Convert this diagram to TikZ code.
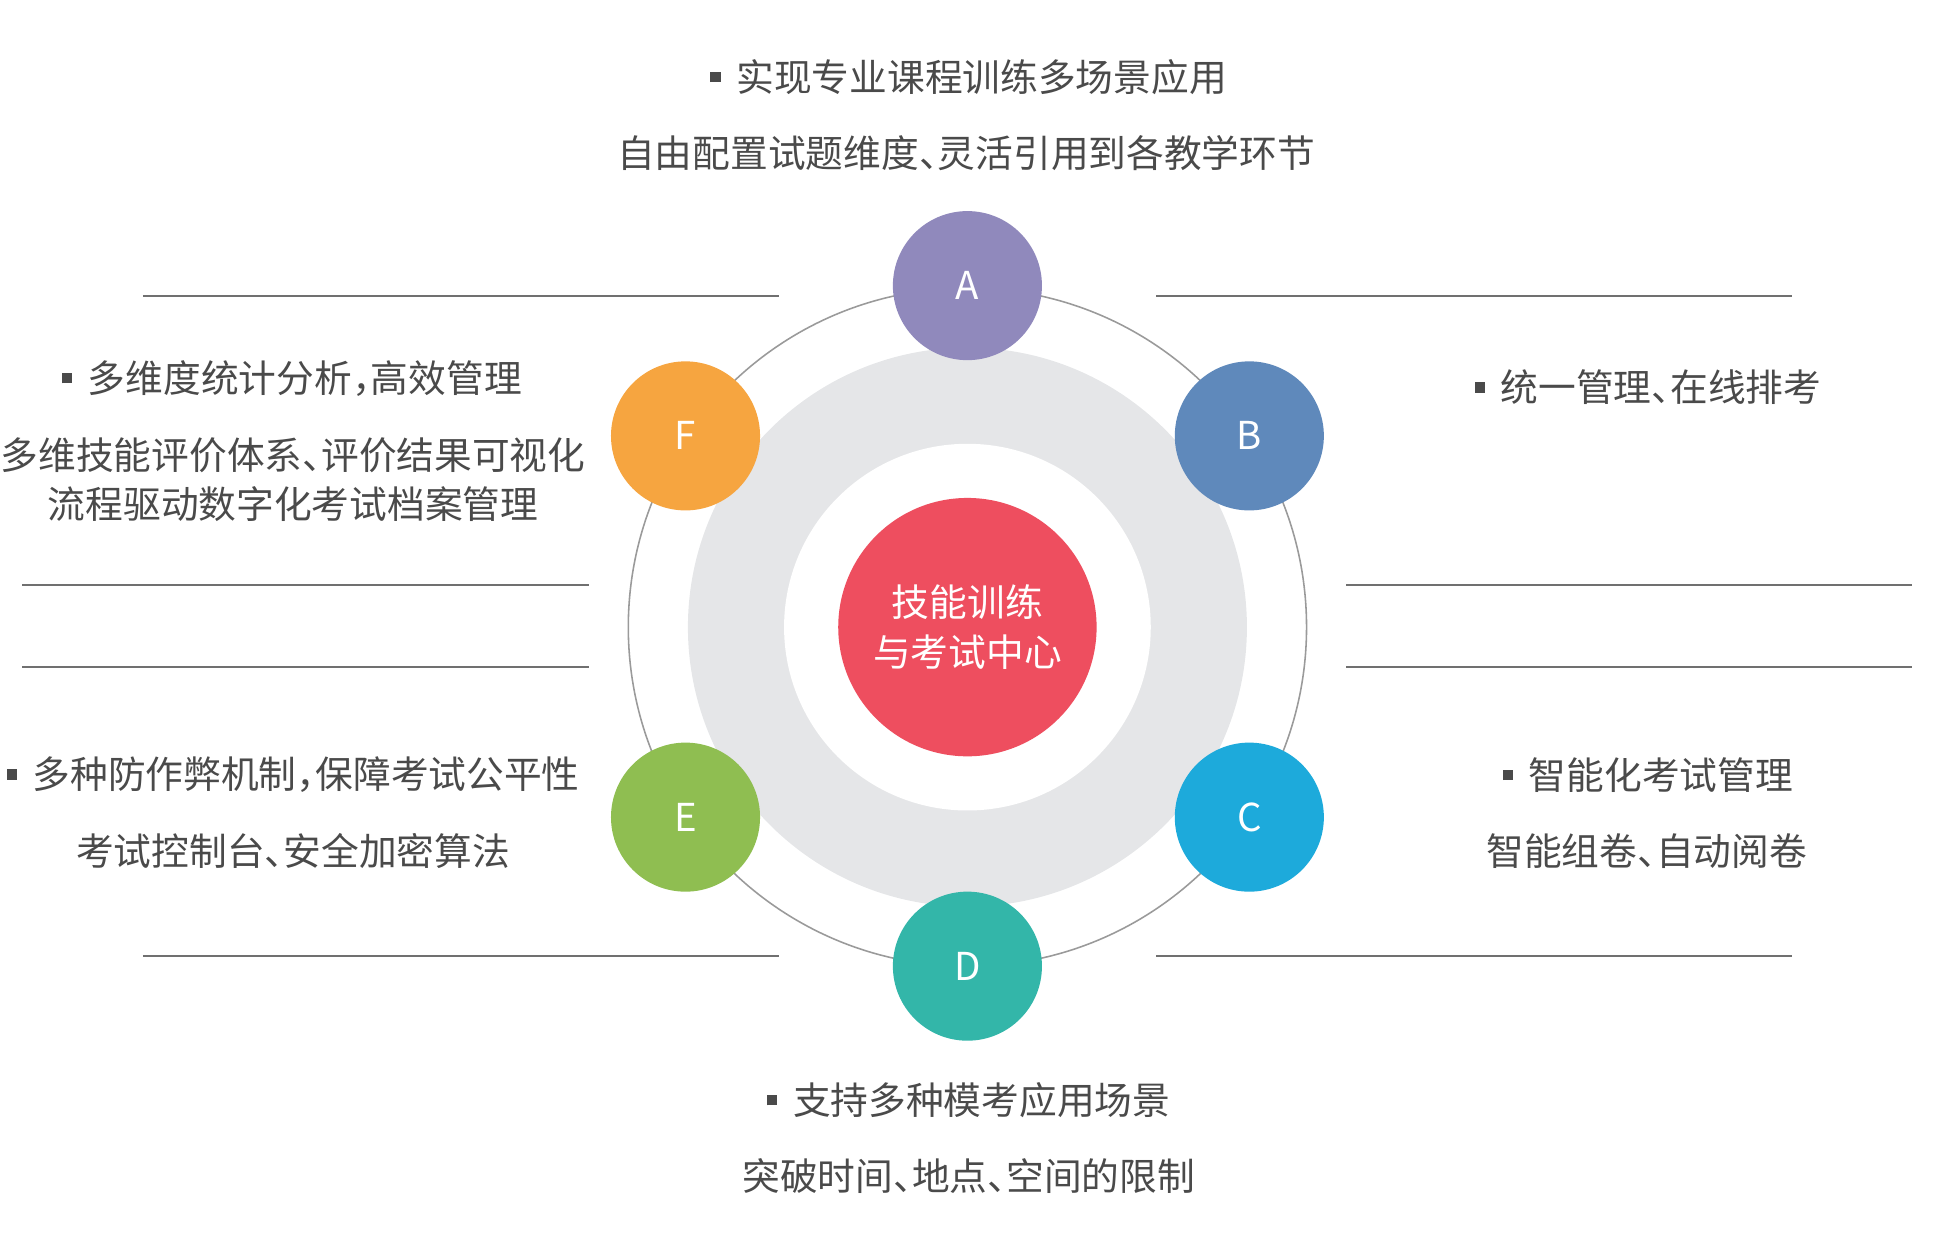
\documentclass[tikz,border=0pt]{standalone}
\usepackage{fontspec}
\setmainfont{Noto Sans CJK SC}[RawFeature={+halt}]
\usetikzlibrary{positioning}
\definecolor{colA}{HTML}{9089BC}
\definecolor{colB}{HTML}{5F89BB}
\definecolor{colC}{HTML}{1DAADB}
\definecolor{colD}{HTML}{33B6A9}
\definecolor{colE}{HTML}{8FBE51}
\definecolor{colF}{HTML}{F6A540}
\definecolor{hubred}{HTML}{EE4E5F}
\definecolor{ringgray}{HTML}{E5E6E8}
\definecolor{orbitgray}{HTML}{9A9A9A}
\definecolor{rulegray}{HTML}{707070}
\definecolor{txtgray}{HTML}{4A4A4A}
\newcommand\sq{\rule[0.245em]{0.27em}{0.27em}\hspace{0.42em}}

\begin{document}
\begin{tikzpicture}[x=0.0125cm, y=-0.0125cm,
    badge/.style={circle, fill=#1, minimum size=1.5cm, inner sep=0, text=white, font=\fontsize{11}{11}\selectfont},
    note/.style={text=txtgray, font=\fontsize{10.8}{14}\selectfont, inner sep=0},
    rule/.style={draw=rulegray, line width=0.57pt}]
    \useasboundingbox (0,0) rectangle (1567,1005);
    \node[circle, draw=orbitgray, line width=0.45pt, minimum size=6.825cm, inner sep=0] (orbit) at (779,505) {};
    \node[circle, fill=ringgray, minimum size=5.625cm, inner sep=0] (ring) at (779,505) {};
    \node[circle, fill=white, minimum size=3.69cm, inner sep=0] (gap) at (779,505) {};
    \node[circle, fill=hubred, minimum size=2.6cm, inner sep=0, text=white, align=center,
          font=\fontsize{10.8}{14.4}\selectfont] (hub) at (779,505) {技能训练\\与考试中心};
    \node[badge=colA] (a) at (779,230) {A};
    \node[badge=colB] (b) at (1006,351) {B};
    \node[badge=colC] (c) at (1006,658) {C};
    \node[badge=colD] (d) at (779,778) {D};
    \node[badge=colE] (e) at (552,658) {E};
    \node[badge=colF] (f) at (552,351) {F};
    \draw[rule] (115,238) -- (627,238);
    \draw[rule] (931,238) -- (1443,238);
    \draw[rule] (18,471) -- (474,471);
    \draw[rule] (18,537) -- (474,537);
    \draw[rule] (1084,471) -- (1540,471);
    \draw[rule] (1084,537) -- (1540,537);
    \draw[rule] (115,770) -- (627,770);
    \draw[rule] (931,770) -- (1443,770);
    \node[note] (a1) at (780,62) {\sq 实现专业课程训练多场景应用};
    \node[note] (a2) at (778,123) {自由配置试题维度、灵活引用到各教学环节};
    \node[note] (b1) at (1327,312) {\sq 统一管理、在线排考};
    \node[note] (c1) at (1327,624) {\sq 智能化考试管理};
    \node[note] (c2) at (1326,685) {智能组卷、自动阅卷};
    \node[note] (d1) at (780,886) {\sq 支持多种模考应用场景};
    \node[note] (d2) at (780,947) {突破时间、地点、空间的限制};
    \node[note] (e1) at (236,624) {\sq 多种防作弊机制，保障考试公平性};
    \node[note] (e2) at (236,685) {考试控制台、安全加密算法};
    \node[note] (f1) at (235,305) {\sq 多维度统计分析，高效管理};
    \node[note] (f2) at (236,367) {多维技能评价体系、评价结果可视化};
    \node[note] (f3) at (236,406) {流程驱动数字化考试档案管理};
\end{tikzpicture}
\end{document}
